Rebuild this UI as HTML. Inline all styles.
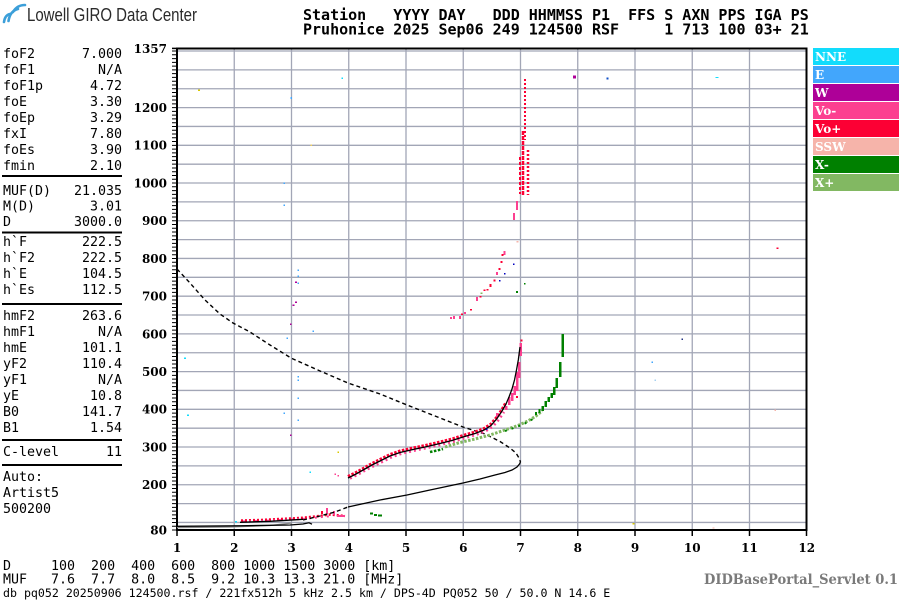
<!DOCTYPE html>
<html><head><meta charset="utf-8"><style>
html,body{margin:0;padding:0;background:#fff;}
svg{display:block;}
.pre{white-space:pre;}
</style></head><body>
<svg width="900" height="600" viewBox="0 0 900 600" xmlns="http://www.w3.org/2000/svg">
<rect width="900" height="600" fill="#fff"/>

<!-- logo -->
<g fill="none" stroke="#3c9fd9" stroke-width="2.6" stroke-linecap="round">
<path d="M4 22 Q5 15 10 14"/>
<path d="M8.5 21 Q10 11 18 9"/>
<path d="M13 12 Q17 5 25 5"/>
</g>
<text x="27" y="21" font-family="'Liberation Sans Narrow','Liberation Sans',sans-serif" font-size="18" fill="#2a2a2a" textLength="170" lengthAdjust="spacingAndGlyphs">Lowell GIRO Data Center</text>

<!-- header -->
<g font-family="'DejaVu Sans Mono','Liberation Mono',monospace" font-weight="bold" font-size="15" fill="#000">
<text class="pre" style="white-space:pre" x="303" y="20">Station   YYYY DAY   DDD HHMMSS P1  FFS S AXN PPS IGA PS</text>
<text class="pre" style="white-space:pre" x="303" y="34.5">Pruhonice 2025 Sep06 249 124500 RSF     1 713 100 03+ 21</text>
</g>

<!-- left panel -->
<g font-family="'DejaVu Sans Mono','Liberation Mono',monospace" font-size="13.3" fill="#000">
<text x="3" y="58">foF2</text><text x="122" y="58" text-anchor="end">7.000</text>
<text x="3" y="74">foF1</text><text x="122" y="74" text-anchor="end">N/A</text>
<text x="3" y="90">foF1p</text><text x="122" y="90" text-anchor="end">4.72</text>
<text x="3" y="106">foE</text><text x="122" y="106" text-anchor="end">3.30</text>
<text x="3" y="122">foEp</text><text x="122" y="122" text-anchor="end">3.29</text>
<text x="3" y="138">fxI</text><text x="122" y="138" text-anchor="end">7.80</text>
<text x="3" y="154">foEs</text><text x="122" y="154" text-anchor="end">3.90</text>
<text x="3" y="170">fmin</text><text x="122" y="170" text-anchor="end">2.10</text>
<text x="3" y="195">MUF(D)</text><text x="122" y="195" text-anchor="end">21.035</text>
<text x="3" y="210.5">M(D)</text><text x="122" y="210.5" text-anchor="end">3.01</text>
<text x="3" y="226">D</text><text x="122" y="226" text-anchor="end">3000.0</text>
<text x="3" y="246">h`F</text><text x="122" y="246" text-anchor="end">222.5</text>
<text x="3" y="262">h`F2</text><text x="122" y="262" text-anchor="end">222.5</text>
<text x="3" y="278">h`E</text><text x="122" y="278" text-anchor="end">104.5</text>
<text x="3" y="294">h`Es</text><text x="122" y="294" text-anchor="end">112.5</text>
<text x="3" y="320">hmF2</text><text x="122" y="320" text-anchor="end">263.6</text>
<text x="3" y="336">hmF1</text><text x="122" y="336" text-anchor="end">N/A</text>
<text x="3" y="352">hmE</text><text x="122" y="352" text-anchor="end">101.1</text>
<text x="3" y="368">yF2</text><text x="122" y="368" text-anchor="end">110.4</text>
<text x="3" y="384">yF1</text><text x="122" y="384" text-anchor="end">N/A</text>
<text x="3" y="400">yE</text><text x="122" y="400" text-anchor="end">10.8</text>
<text x="3" y="416">B0</text><text x="122" y="416" text-anchor="end">141.7</text>
<text x="3" y="432">B1</text><text x="122" y="432" text-anchor="end">1.54</text>
<text x="3" y="456">C-level</text><text x="122" y="456" text-anchor="end">11</text>
<text x="3" y="481">Auto:</text>
<text x="3" y="497">Artist5</text>
<text x="3" y="513">500200</text>
</g>
<g stroke="#000" stroke-width="2">
<line x1="2" y1="176" x2="122" y2="176"/>
<line x1="2" y1="232.5" x2="122" y2="232.5"/>
<line x1="2" y1="304" x2="122" y2="304"/>
<line x1="2" y1="440" x2="122" y2="440"/>
<line x1="2" y1="465" x2="122" y2="465"/>
</g>

<!-- grid -->
<g stroke="#a2a6b6" stroke-width="1.3">
<line x1="177" y1="522.46" x2="807" y2="522.46"/>
<line x1="177" y1="503.6" x2="807" y2="503.6"/>
<line x1="177" y1="484.74" x2="807" y2="484.74"/>
<line x1="177" y1="465.89" x2="807" y2="465.89"/>
<line x1="177" y1="447.03" x2="807" y2="447.03"/>
<line x1="177" y1="428.17" x2="807" y2="428.17"/>
<line x1="177" y1="409.31" x2="807" y2="409.31"/>
<line x1="177" y1="390.46" x2="807" y2="390.46"/>
<line x1="177" y1="371.6" x2="807" y2="371.6"/>
<line x1="177" y1="352.74" x2="807" y2="352.74"/>
<line x1="177" y1="333.89" x2="807" y2="333.89"/>
<line x1="177" y1="315.03" x2="807" y2="315.03"/>
<line x1="177" y1="296.17" x2="807" y2="296.17"/>
<line x1="177" y1="277.32" x2="807" y2="277.32"/>
<line x1="177" y1="258.46" x2="807" y2="258.46"/>
<line x1="177" y1="239.6" x2="807" y2="239.6"/>
<line x1="177" y1="220.75" x2="807" y2="220.75"/>
<line x1="177" y1="201.89" x2="807" y2="201.89"/>
<line x1="177" y1="183.03" x2="807" y2="183.03"/>
<line x1="177" y1="164.17" x2="807" y2="164.17"/>
<line x1="177" y1="145.32" x2="807" y2="145.32"/>
<line x1="177" y1="126.46" x2="807" y2="126.46"/>
<line x1="177" y1="107.6" x2="807" y2="107.6"/>
<line x1="177" y1="88.75" x2="807" y2="88.75"/>
<line x1="177" y1="69.89" x2="807" y2="69.89"/>
<line x1="177" y1="51.03" x2="807" y2="51.03"/>
<line x1="234.25" y1="48" x2="234.25" y2="530"/>
<line x1="291.5" y1="48" x2="291.5" y2="530"/>
<line x1="348.75" y1="48" x2="348.75" y2="530"/>
<line x1="406" y1="48" x2="406" y2="530"/>
<line x1="463.25" y1="48" x2="463.25" y2="530"/>
<line x1="520.5" y1="48" x2="520.5" y2="530"/>
<line x1="577.75" y1="48" x2="577.75" y2="530"/>
<line x1="635" y1="48" x2="635" y2="530"/>
<line x1="692.25" y1="48" x2="692.25" y2="530"/>
<line x1="749.5" y1="48" x2="749.5" y2="530"/>
</g>

<!-- frame -->
<g stroke="#000" stroke-width="2" fill="none">
<rect x="177" y="48.5" width="629.5" height="481.5"/>
</g>
<line x1="174.5" y1="530.5" x2="174.5" y2="48" stroke="#000" stroke-width="5" stroke-dasharray="1 2.7714"/>
<g stroke="#000" stroke-width="1.5">
<line x1="172" y1="48.4" x2="177" y2="48.4"/>
<line x1="177" y1="530" x2="177" y2="536"/>
<line x1="234.25" y1="530" x2="234.25" y2="536"/>
<line x1="291.5" y1="530" x2="291.5" y2="536"/>
<line x1="348.75" y1="530" x2="348.75" y2="536"/>
<line x1="406" y1="530" x2="406" y2="536"/>
<line x1="463.25" y1="530" x2="463.25" y2="536"/>
<line x1="520.5" y1="530" x2="520.5" y2="536"/>
<line x1="577.75" y1="530" x2="577.75" y2="536"/>
<line x1="635" y1="530" x2="635" y2="536"/>
<line x1="692.25" y1="530" x2="692.25" y2="536"/>
<line x1="749.5" y1="530" x2="749.5" y2="536"/>
<line x1="806.5" y1="530" x2="806.5" y2="536"/>
</g>

<!-- axis labels -->
<g font-family="'DejaVu Serif','Liberation Serif',serif" font-weight="bold" font-size="12" fill="#000">
<g text-anchor="end">
<text x="167" y="52.8">1357</text>
<text x="167" y="112">1200</text>
<text x="167" y="149.7">1100</text>
<text x="167" y="187.4">1000</text>
<text x="167" y="225.1">900</text>
<text x="167" y="262.9">800</text>
<text x="167" y="300.6">700</text>
<text x="167" y="338.3">600</text>
<text x="167" y="376">500</text>
<text x="167" y="413.7">400</text>
<text x="167" y="451.4">300</text>
<text x="167" y="489.1">200</text>
<text x="167" y="534.4">80</text>
</g>
<g text-anchor="middle">
<text x="177" y="552">1</text>
<text x="234.25" y="552">2</text>
<text x="291.5" y="552">3</text>
<text x="348.75" y="552">4</text>
<text x="406" y="552">5</text>
<text x="463.25" y="552">6</text>
<text x="520.5" y="552">7</text>
<text x="577.75" y="552">8</text>
<text x="635" y="552">9</text>
<text x="692.25" y="552">10</text>
<text x="749.5" y="552">11</text>
<text x="806.75" y="552">12</text>
</g>
</g>

<!-- legend -->
<g>
<rect x="813" y="48" width="86" height="17" fill="#12dcfc"/>
<rect x="813" y="66" width="86" height="17" fill="#42a6fc"/>
<rect x="813" y="84" width="86" height="17" fill="#ae0098"/>
<rect x="813" y="102" width="86" height="17" fill="#fc4090"/>
<rect x="813" y="120" width="86" height="17" fill="#fc0034"/>
<rect x="813" y="138" width="86" height="17" fill="#f6b4aa"/>
<rect x="813" y="156" width="86" height="17" fill="#008000"/>
<rect x="813" y="174" width="86" height="17" fill="#82b862"/>
</g>
<g font-family="'DejaVu Serif','Liberation Serif',serif" font-weight="bold" font-size="12" fill="#fff">
<text x="815" y="61">NNE</text>
<text x="815" y="79">E</text>
<text x="815" y="97">W</text>
<text x="815" y="115">Vo-</text>
<text x="815" y="133">Vo+</text>
<text x="815" y="151">SSW</text>
<text x="815" y="169">X-</text>
<text x="815" y="187">X+</text>
</g>

<!-- bottom text -->
<g font-family="'DejaVu Sans Mono','Liberation Mono',monospace" font-size="13.3" fill="#000">
<text style="white-space:pre" x="3" y="570">D     100  200  400  600  800 1000 1500 3000 [km]</text>
<text style="white-space:pre" x="3" y="583.5">MUF   7.6  7.7  8.0  8.5  9.2 10.3 13.3 21.0 [MHz]</text>
</g>
<text style="white-space:pre" x="3" y="597" font-family="'DejaVu Sans Mono','Liberation Mono',monospace" font-size="11.6" fill="#000">db pq052 20250906 124500.rsf / 221fx512h 5 kHz 2.5 km / DPS-4D PQ052 50 / 50.0 N 14.6 E</text>
<text x="704" y="584" font-family="'DejaVu Serif','Liberation Serif',serif" font-weight="bold" font-size="14" fill="#7a7a7a" textLength="194" lengthAdjust="spacingAndGlyphs">DIDBasePortal_Servlet 0.1</text>

<!-- ============ DATA ============ -->
<!-- E trace dots -->
<polyline points="241,520.5 260,520 280,519 300,518 315,516.5 330,514.5 345,516" fill="none" stroke="#fc0034" stroke-width="2.5" stroke-dasharray="2 2"/>
<polyline points="243,521.5 262,521 282,520 302,519 317,517.5 332,516" fill="none" stroke="#fc4090" stroke-width="2" stroke-dasharray="2 4"/>
<rect x="326" y="508" width="2" height="6" fill="#fc4090"/>
<rect x="321" y="511" width="2" height="3" fill="#fc0034"/>
<rect x="333" y="511" width="2" height="4" fill="#fc4090"/>
<rect x="337" y="515" width="8" height="2" fill="#fc4090"/>
<rect x="370" y="512.5" width="3" height="2" fill="#008000"/>
<rect x="374" y="514" width="3" height="2" fill="#008000"/>
<rect x="378" y="514.5" width="4" height="2" fill="#008000"/>

<!-- lower profile lines -->
<polyline points="177,527.6 230,527 270,525.5 292,523" fill="none" stroke="#8a8a8a" stroke-width="1.3"/>
<polyline points="177,526.3 240,525.8 290,525 303,524 309,522.8 312,524.2" fill="none" stroke="#000" stroke-width="1.3"/>
<polyline points="240,522.3 270,521.3 303,519.3" fill="none" stroke="#000" stroke-width="1.3"/>
<polyline points="303,520 320,516 335,512 348,507" fill="none" stroke="#000" stroke-width="1.4" stroke-dasharray="4 3"/>
<polyline points="348,507 380,500 407,495 430,490 463,483 480,479 495,475 505,472.5 512,470 517,467 519.5,464 520.5,462" fill="none" stroke="#000" stroke-width="1.3"/>
<polyline points="177,269 190,283 205,300 220,314 233,323 250,332 270,345 291,358 320,371 348,383 380,394 407,405 435,416 463,427 485,434 500,441.5 510,448 516,453 519,458 520.5,462" fill="none" stroke="#000" stroke-width="1.4" stroke-dasharray="4 3"/>

<!-- X trace -->
<polyline points="445,447 460,442.5 475,439 490,435 505,430 518,425.5 528,421 536,416 542,411" fill="none" stroke="#82b862" stroke-width="3" stroke-dasharray="2.5 1.5"/>
<polyline points="430,452 437,450.5 443,449" fill="none" stroke="#008000" stroke-width="2.5" stroke-dasharray="2.5 1.5"/>
<polyline points="505,431 518,426.5 528,422 536,417" fill="none" stroke="#008000" stroke-width="2" stroke-dasharray="2 5"/>
<g fill="#008000">
<rect x="561.5" y="334" width="2.5" height="23"/>
<rect x="559" y="362" width="2.5" height="15"/>
<rect x="555.5" y="378" width="2.5" height="10"/>
<rect x="553" y="387" width="2.5" height="8"/>
<rect x="550.5" y="393" width="2.5" height="5"/>
<rect x="547.5" y="397" width="2.5" height="5"/>
<rect x="544.5" y="401" width="2.5" height="6"/>
<rect x="541.5" y="406" width="2.5" height="5"/>
<rect x="538.5" y="409" width="2" height="4"/>
<rect x="535" y="412" width="2" height="3"/>
</g>

<!-- O trace -->
<polyline points="348,476.5 356,472.5 364,468 372,463.5 380,459.5 390,454.5 400,451 413,448 425,445.5 440,442 452,439 463,435.5 475,432 484,428.5 491,424 497,417 502,409.5 506,402.5" fill="none" stroke="#fc0034" stroke-width="3" stroke-dasharray="2.5 1.5"/>
<polyline points="350,478.5 358,474.5 366,470 374,466 382,462 392,457 402,453.5 415,450.5 427,448 442,444.5 454,441.5 465,438 477,434.5 486,431 493,426.5 499,419.5 504,412" fill="none" stroke="#fc4090" stroke-width="2.5" stroke-dasharray="2 3"/>
<g fill="#fc4090">
<rect x="519.5" y="343" width="2.5" height="13"/>
<rect x="518" y="362" width="2.5" height="16"/>
<rect x="516" y="372" width="2.5" height="19"/>
<rect x="513.5" y="386" width="2.5" height="9"/>
<rect x="511" y="393" width="2.5" height="8"/>
<rect x="508" y="397" width="2.5" height="8"/>
<rect x="505" y="406" width="2.5" height="4"/>
<rect x="496" y="413" width="2" height="4"/>
</g>
<rect x="520.5" y="339.5" width="2" height="2" fill="#fc0034"/>
<rect x="516" y="396" width="2" height="2" fill="#fc0034"/>
<polyline points="348,478 356,474 364,469.5 372,465 380,461 390,456 400,452.5 413,449.5 425,447 440,443.5 452,440.5 463,437 475,433.5 484,430 491,425.5 497,418.5 502,411 506,404 509,397 512,389 514.5,380 516.5,370 518.3,360 520,347" fill="none" stroke="#000" stroke-width="1.3"/>

<!-- 2F trace -->
<line x1="525" y1="79" x2="525" y2="140" stroke="#fc0034" stroke-width="2" stroke-dasharray="2 2"/>
<line x1="523" y1="131" x2="523" y2="195" stroke="#fc0034" stroke-width="2.5" stroke-dasharray="4 1"/>
<line x1="528" y1="150" x2="528" y2="195" stroke="#fc0034" stroke-width="2.5" stroke-dasharray="2 2"/>
<line x1="520" y1="157" x2="520" y2="194" stroke="#fc0034" stroke-width="2" stroke-dasharray="3 2"/>
<g fill="#fc4090">
<rect x="516" y="201" width="2" height="9"/>
<rect x="513" y="213" width="2" height="7"/>
<rect x="503.5" y="251" width="2" height="4"/>
<rect x="496" y="272" width="2" height="3"/>
<rect x="476" y="297" width="2" height="4"/>
<rect x="464" y="312" width="2" height="2"/>
<rect x="459" y="316" width="2" height="3"/>
<rect x="453" y="316" width="2" height="3"/>
<rect x="450" y="317" width="2" height="2"/>
</g>
<g fill="#fc0034">
<rect x="501.5" y="254" width="2" height="2"/>
<rect x="500.5" y="261" width="2" height="2"/>
<rect x="498.5" y="268" width="2" height="2"/>
<rect x="493.5" y="279.5" width="2" height="2"/>
<rect x="489.5" y="284" width="2" height="3"/>
<rect x="486.5" y="289" width="2" height="1.5"/>
<rect x="483.5" y="289.5" width="2" height="1.5"/>
<rect x="479.5" y="296" width="2" height="1.5"/>
<rect x="470" y="309" width="2" height="1.5"/>
<rect x="461" y="313.5" width="2" height="1.5"/>
</g>
<rect x="516.5" y="241" width="2" height="1.5" fill="#f6b4aa"/>
<rect x="480.5" y="292.5" width="2" height="1.5" fill="#82b862"/>
<rect x="524" y="283" width="1.5" height="1.5" fill="#008000"/>
<rect x="516" y="291" width="2" height="2" fill="#008000"/>
<rect x="513" y="263.5" width="1.5" height="1.5" fill="#0000c0"/>
<rect x="504" y="273" width="1.5" height="1.5" fill="#0000c0"/>
<rect x="499" y="280" width="1.5" height="1.5" fill="#0000c0"/>
<rect x="573" y="75.5" width="3" height="3" fill="#ae0098"/>

<!-- noise points -->
<rect x="198" y="89.5" width="2" height="1.5" fill="#d8c800"/>
<rect x="341.5" y="77.5" width="1.5" height="1.5" fill="#12dcfc"/>
<rect x="715.5" y="77" width="3" height="1" fill="#12dcfc"/>
<rect x="606.5" y="77.5" width="2" height="2" fill="#1050c8"/>
<rect x="776.5" y="247.5" width="2" height="1.5" fill="#fc0034"/>
<rect x="290.5" y="97" width="1.5" height="2" fill="#42a6fc"/>
<rect x="310.5" y="144.5" width="1.5" height="1.5" fill="#f0d060"/>
<rect x="283.5" y="182.5" width="1.5" height="1.5" fill="#42a6fc"/>
<rect x="283.5" y="204.5" width="1.5" height="1.5" fill="#42a6fc"/>
<rect x="297.5" y="269.5" width="1.5" height="1.5" fill="#42a6fc"/>
<rect x="297.5" y="275.5" width="1.5" height="1.5" fill="#42a6fc"/>
<rect x="297.5" y="282.5" width="1.5" height="1.5" fill="#42a6fc"/>
<rect x="295" y="281.5" width="2" height="1.5" fill="#ae0098"/>
<rect x="295" y="301.5" width="2" height="1.5" fill="#ae0098"/>
<rect x="292.5" y="304.5" width="2" height="1.5" fill="#ae0098"/>
<rect x="290" y="323.5" width="1.5" height="1.5" fill="#ae0098"/>
<rect x="312.5" y="330.5" width="1.5" height="1.5" fill="#42a6fc"/>
<rect x="184" y="357.5" width="2" height="1.5" fill="#12dcfc"/>
<rect x="286.5" y="337.5" width="1.5" height="1.5" fill="#42a6fc"/>
<rect x="297.5" y="376" width="1.5" height="1.5" fill="#42a6fc"/>
<rect x="297.5" y="379.5" width="1.5" height="1.5" fill="#42a6fc"/>
<rect x="297.5" y="397.5" width="1.5" height="1.5" fill="#42a6fc"/>
<rect x="187" y="414.5" width="2" height="1.5" fill="#12dcfc"/>
<rect x="283.5" y="412.5" width="1.5" height="1.5" fill="#42a6fc"/>
<rect x="297.5" y="419.5" width="1.5" height="1.5" fill="#42a6fc"/>
<rect x="290" y="434.5" width="1.5" height="1.5" fill="#ae0098"/>
<rect x="337.5" y="451.5" width="1.5" height="1.5" fill="#d8c800"/>
<rect x="309.5" y="471.5" width="1.5" height="1.5" fill="#12dcfc"/>
<rect x="334.5" y="473.5" width="1.5" height="1.5" fill="#fc4090"/>
<rect x="337.5" y="475" width="1.5" height="1.5" fill="#fc4090"/>
<rect x="486" y="428.5" width="1.5" height="1.5" fill="#0000c0"/>
<rect x="235" y="521" width="2" height="1.5" fill="#12dcfc"/>
<rect x="632.5" y="523" width="2" height="1.5" fill="#d8c800"/>
<rect x="712.5" y="527.5" width="2" height="1" fill="#f6b4aa"/>
<rect x="681.5" y="338.5" width="1.5" height="1.5" fill="#203080"/>
<rect x="651.5" y="361.5" width="1.5" height="1.5" fill="#42a6fc"/>
<rect x="654.5" y="379.5" width="1.5" height="1.5" fill="#a6d0f0"/>
<rect x="774.5" y="409.5" width="1.5" height="1.5" fill="#f6b4aa"/>
</svg>
</body></html>
